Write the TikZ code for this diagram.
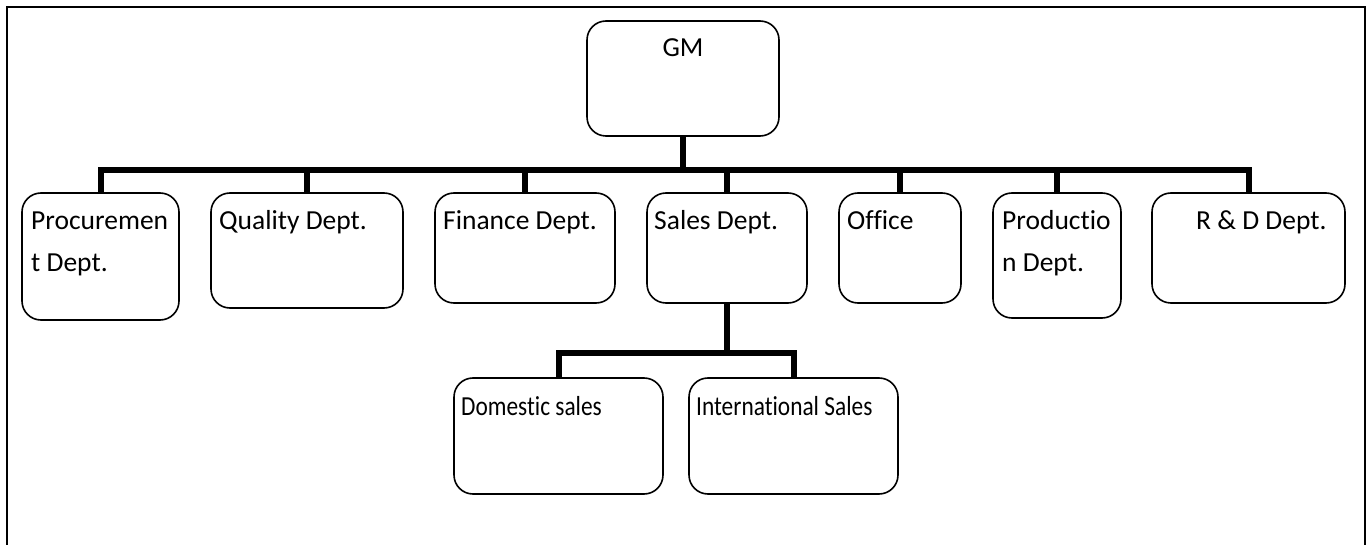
\documentclass[tikz,border=0pt]{standalone}
\usepackage{fontspec}
\setmainfont{Carlito}[Ligatures=NoCommon]
\begin{document}
\begin{tikzpicture}[x=1pt,y=1pt,
  box/.style={draw=black, line width=1.6pt, rounded corners=19pt, inner sep=0pt, outer sep=0pt, anchor=north west},
  txt/.style={anchor=base west, inner sep=0pt, font=\fontsize{27.5}{42}\selectfont},
  narrow/.style={xscale=0.85, transform shape},
  conn/.style={draw=black, line width=6pt, line join=miter}]
\useasboundingbox (0,0) rectangle (1371,-545);
% frame (open at bottom)
\draw[line width=2.2pt] (7,-545) -- (7,-7) -- (1365,-7) -- (1365,-545);
% boxes
\node[box, minimum width=192pt, minimum height=115pt] (gm) at (587,-21) {};
\node[box, minimum width=157pt, minimum height=127pt] (proc) at (22,-193) {};
\node[box, minimum width=192pt, minimum height=115pt] (qual) at (211,-193) {};
\node[box, minimum width=180pt, minimum height=110pt] (fin) at (435,-193) {};
\node[box, minimum width=160pt, minimum height=110pt] (sales) at (647,-193) {};
\node[box, minimum width=122pt, minimum height=110pt] (off) at (839,-193) {};
\node[box, minimum width=128pt, minimum height=125pt] (prod) at (993,-193) {};
\node[box, minimum width=193pt, minimum height=110pt] (rd) at (1152,-193) {};
\node[box, minimum width=209pt, minimum height=116pt] (dom) at (454,-378) {};
\node[box, minimum width=209pt, minimum height=116pt] (intl) at (689,-378) {};
% texts
\node[txt, anchor=base] (tgm) at (683,-57) {GM};
\node[txt] (tproc1) at (31,-230) {Procuremen};
\node[txt] (tproc2) at (31,-272) {t Dept.};
\node[txt] (tqual) at (219,-230) {Quality Dept.};
\node[txt] (tfin) at (443,-230) {Finance Dept.};
\node[txt] (tsales) at (654,-230) {Sales Dept.};
\node[txt] (toff) at (847,-230) {Office};
\node[txt] (tprod1) at (1002,-230) {Productio};
\node[txt] (tprod2) at (1002,-272) {n Dept.};
\node[txt] (trd) at (1196,-230) {R \& D Dept.};
\node[txt, narrow] (tdom) at (461,-415) {Domestic sales};
\node[txt, narrow] (tintl) at (696,-415) {International Sales};
% connectors
\coordinate (bus) at (684,-170);
\coordinate (sbus) at (727,-353);
\draw[conn] (gm.south) -- (gm.south |- bus);
\draw[conn] (proc.north) |- (bus) -| (rd.north);
\foreach \n in {qual,fin,sales,off,prod}{
  \draw[conn] (\n.north) -- (\n.north |- bus);
}
\draw[conn] (sales.south) -- (sbus);
\draw[conn] (dom.north) |- (sbus) -| (intl.north);
\end{tikzpicture}
\end{document}
